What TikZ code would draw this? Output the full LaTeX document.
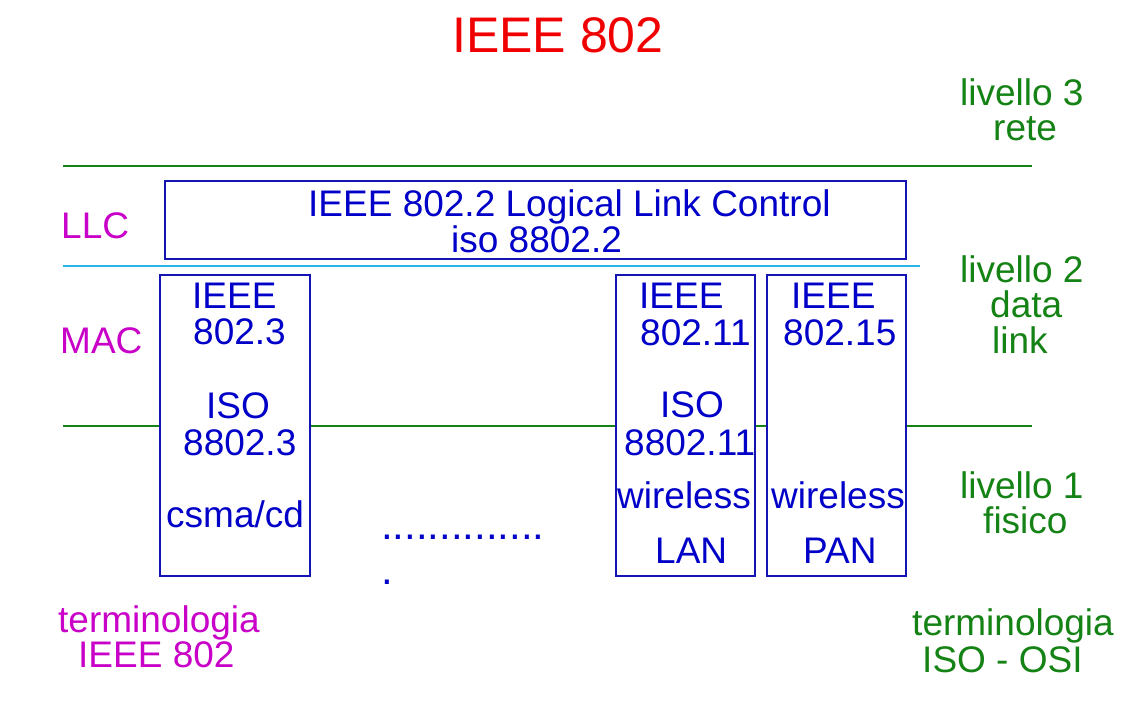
\documentclass[tikz,border=0pt]{standalone}
\usepackage{fontspec}
\setmainfont{Liberation Sans}
\usetikzlibrary{positioning}
\definecolor{titlered}{RGB}{240,0,0}
\definecolor{stdblue}{RGB}{0,0,200}
\definecolor{boxblue}{RGB}{20,20,180}
\definecolor{isogreen}{RGB}{20,130,20}
\definecolor{ieeemag}{RGB}{200,0,200}
\definecolor{llccyan}{RGB}{40,180,230}
\tikzset{
    layerline/.style={draw=isogreen, line width=2.4pt},
    llcline/.style={draw=llccyan, line width=2.4pt},
    stdbox/.style={draw=boxblue, fill=white, line width=2.5pt, inner sep=0pt},
    lbl/.style={inner sep=0pt, anchor=base west, font=\fontsize{37}{44}\selectfont},
    stdtext/.style={lbl, text=stdblue},
    isotext/.style={lbl, text=isogreen},
    ieeetext/.style={lbl, text=ieeemag},
}

\begin{document}
\begin{tikzpicture}[x=1pt, y=-1pt]
    \useasboundingbox (0,0) rectangle (1142,707);
    % separators between the layers
    \coordinate (l3w) at (63,166);   \coordinate (l3e) at (1032,166);
    \coordinate (llcw) at (63,266);  \coordinate (llce) at (920,266);
    \coordinate (l1w) at (63,426);   \coordinate (l1e) at (1032,426);
    \draw[layerline] (l3w) -- (l3e);
    \draw[llcline] (llcw) -- (llce);
    \draw[layerline] (l1w) -- (l1e);
    % boxes
    \node[stdbox, minimum width=741pt, minimum height=78pt] (llc) at (535.5,220) {};
    \node[stdbox, minimum width=150pt, minimum height=301pt] (eth) at (235,425.5) {};
    \node[stdbox, minimum width=139pt, minimum height=301pt] (wlan) at (685.5,425.5) {};
    \node[stdbox, minimum width=139pt, minimum height=301pt] (wpan) at (836.5,425.5) {};
    % title
    \node[lbl, text=titlered, font=\fontsize{50}{60}\selectfont] (title) at (452,52) {IEEE 802};
    % llc
    \node[stdtext] (llc1) at (308,216) {IEEE 802.2 Logical Link Control};
    \node[stdtext] (llc2) at (451,252) {iso 8802.2};
    % 802.3
    \node[stdtext] (eth1) at (192,308) {IEEE};
    \node[stdtext] (eth2) at (193,344) {802.3};
    \node[stdtext] (eth3) at (206,418) {ISO};
    \node[stdtext] (eth4) at (183,455) {8802.3};
    \node[stdtext] (eth5) at (166,527) {csma/cd};
    % 802.11
    \node[stdtext] (wlan1) at (639,308) {IEEE};
    \node[stdtext] (wlan2) at (640,345) {802.11};
    \node[stdtext] (wlan3) at (660,417) {ISO};
    \node[stdtext] (wlan4) at (624,455) {8802.11};
    \node[stdtext] (wlan5) at (617,508) {wireless};
    \node[stdtext] (wlan6) at (655,563) {LAN};
    % 802.15
    \node[stdtext] (wpan1) at (791,308) {IEEE};
    \node[stdtext] (wpan2) at (783,345) {802.15};
    \node[stdtext] (wpan3) at (771,508) {wireless};
    \node[stdtext] (wpan4) at (803,563) {PAN};
    % other standards
    \node[stdtext, font=\fontsize{42}{50}\selectfont] (dots1) at (381,539) {..............};
    \node[stdtext, font=\fontsize{42}{50}\selectfont] (dots2) at (381,584) {.};
    % ieee names
    \node[ieeetext] (llcname) at (61,238) {LLC};
    \node[ieeetext] (macname) at (60,353) {MAC};
    \node[ieeetext] (ieeeterm1) at (58,632) {terminologia};
    \node[ieeetext] (ieeeterm2) at (78,667) {IEEE 802};
    % iso levels
    \node[isotext] (lev3a) at (960,105) {livello 3};
    \node[isotext] (lev3b) at (993,140) {rete};
    \node[isotext] (lev2a) at (960,282) {livello 2};
    \node[isotext] (lev2b) at (990,317) {data};
    \node[isotext] (lev2c) at (992,353) {link};
    \node[isotext] (lev1a) at (960,498) {livello 1};
    \node[isotext] (lev1b) at (983,533) {fisico};
    \node[isotext] (isoterm1) at (912,635) {terminologia};
    \node[isotext] (isoterm2) at (922,672) {ISO - OSI};
\end{tikzpicture}
\end{document}
